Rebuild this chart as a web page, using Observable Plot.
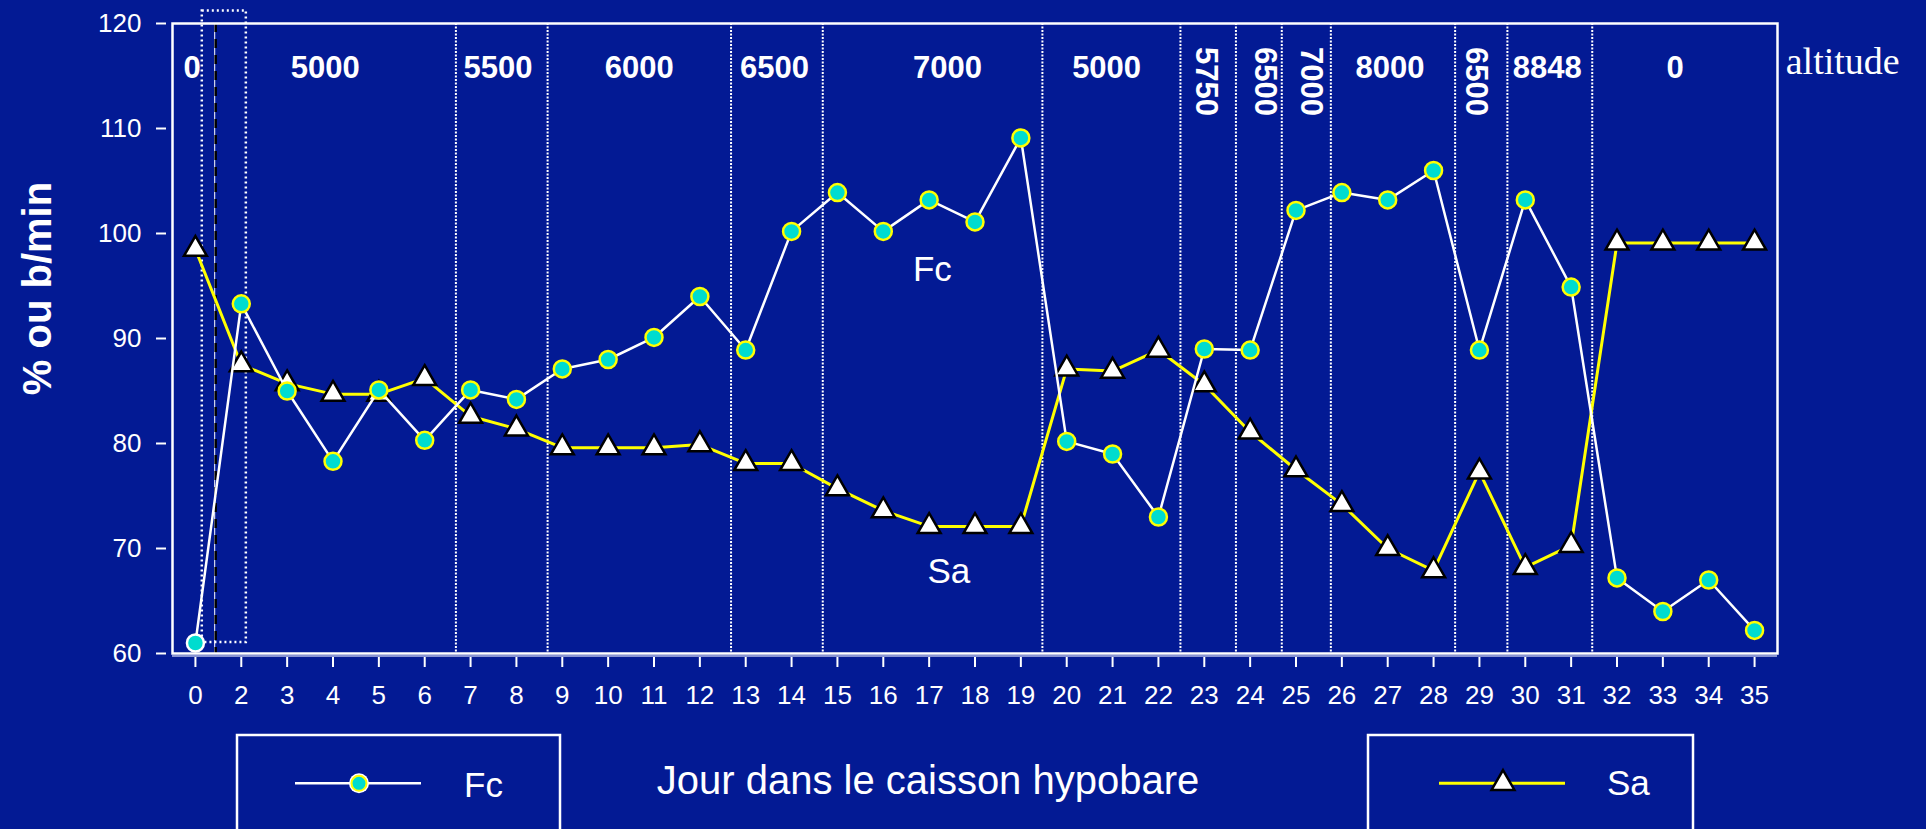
<!DOCTYPE html>
<html>
<head>
<meta charset="utf-8">
<script src="https://cdn.jsdelivr.net/npm/d3@7"></script>
<script src="https://cdn.jsdelivr.net/npm/@observablehq/plot@0.6"></script>
<style>
html, body { margin: 0; padding: 0; background: #031a94; overflow: hidden; }
#wrap { position: relative; width: 1926px; height: 829px; overflow: hidden; background: #031a94;
  font-family: "Liberation Sans", Arial, Helvetica, sans-serif; color: white; }
#chart svg { display: block; }
#below { position: absolute; left: 0; top: 720px; width: 1926px; height: 109px; }
</style>
</head>
<body>
<div id="wrap">
  <div id="chart"></div>
  <svg id="below" width="1926" height="109"></svg>
</div>
<script>
// ---- data ----
const days = [0,2,3,4,5,6,7,8,9,10,11,12,13,14,15,16,17,18,19,20,21,22,23,24,25,26,27,28,29,30,31,32,33,34,35];
const fcValues = [61.0,93.3,85.0,78.3,85.1,80.3,85.1,84.2,87.1,88.0,90.1,94.0,88.9,100.2,103.9,100.2,103.2,101.1,109.1,80.2,79.0,73.0,89.0,88.9,102.2,103.9,103.2,106.0,88.9,103.2,94.9,67.2,64.0,67.0,62.2];
const saValues = [98.5,87.5,85.7,84.7,84.7,86.2,82.6,81.4,79.6,79.6,79.6,79.9,78.1,78.1,75.7,73.6,72.1,72.1,72.1,87.1,86.9,88.9,85.6,81.1,77.5,74.2,70.0,67.9,77.3,68.2,70.3,99.1,99.1,99.1,99.1];
const yTicks = [60,70,80,90,100,110,120];
const altitudeLabels = ["0","5000","5500","6000","6500","7000","5000","5750","6500","7000","8000","6500","8848","0"];
const altitudeLabelPos = [-0.07,2.83,6.6,9.68,12.63,16.4,19.87,22.04,23.33,24.32,26.05,27.92,29.48,32.27];
const altitudeLabelVertical = [false,false,false,false,false,false,false,true,true,true,false,true,false,false];
const altitudeBoundaries = [5.68,7.68,11.68,13.68,18.47,21.48,22.69,23.69,24.76,27.47,28.61,30.46];
const startMarker = [0.42];
const startBoxX = [0.15, 1.11];
const startBoxY = [61.05, 121.2];
const seriesNames = ["Fc", "Sa"];
const seriesLabelX = [16.07, 16.43];
const seriesLabelY = [95.46, 66.73];
const altitudeTitle = "altitude";
const altitudeTitleX = 34.68;
const yTitle = "% ou b/min";
const xTitle = "Jour dans le caisson hypobare";

// ---- tables ----
const rows = days.map((day, i) => ({i, day, fc: fcValues[i], sa: saValues[i]}));
const alt = altitudeLabels.map((t, k) => ({t, x: altitudeLabelPos[k], vertical: altitudeLabelVertical[k]}));
const seriesLabels = seriesNames.map((t, k) => ({t, x: seriesLabelX[k], y: seriesLabelY[k]}));

const CYAN = "#00dccf", YELLOW = "#ffff00";
const SANS = "'Liberation Sans', Arial, Helvetica, sans-serif";

const chart = Plot.plot({
  width: 1926,
  height: 720,
  marginLeft: 172,
  marginRight: 149,
  marginTop: 23,
  marginBottom: 67,
  x: {type: "linear", domain: [-0.5, 34.5]},
  y: {domain: [60, 120]},
  style: {background: "transparent", color: "white", fontFamily: SANS, overflow: "visible"},
  marks: [
    Plot.ruleX(altitudeBoundaries, {stroke: "white", strokeWidth: 2, strokeDasharray: "2,1.5"}),
    Plot.rect([0], {x1: startBoxX[0], x2: startBoxX[1], y1: startBoxY[0], y2: startBoxY[1],
      fill: "none", stroke: "white", strokeWidth: 2.5, strokeDasharray: "2,3"}),
    Plot.ruleX(startMarker, {stroke: "white", strokeWidth: 1}),
    Plot.ruleX(startMarker, {stroke: "black", strokeWidth: 2.5, strokeDasharray: "9,7", dx: 1}),
    Plot.frame({stroke: "white", strokeWidth: 2.5}),
    Plot.ruleY([60], {stroke: "#b4bde8", strokeWidth: 1.5, dy: 2.5}),
    Plot.axisY(yTicks, {tickSize: 10, dx: -6, tickPadding: 15, fontSize: 26, strokeWidth: 2, label: null}),
    Plot.axisX(d3.range(days.length), {tickFormat: i => String(days[i]), tickSize: 10, dy: 4,
      tickPadding: 18, fontSize: 26, strokeWidth: 2, label: null}),
    Plot.line(rows, {x: "i", y: "sa", stroke: YELLOW, strokeWidth: 3}),
    Plot.dot(rows, {x: "i", y: "sa", symbol: "triangle", r: 8.5, fill: "white", stroke: "black", strokeWidth: 2.5}),
    Plot.line(rows, {x: "i", y: "fc", stroke: "white", strokeWidth: 2.5}),
    Plot.dot(rows, {x: "i", y: "fc", r: 8.5, fill: CYAN, stroke: YELLOW, strokeWidth: 2.5, filter: d => d.day !== 0}),
    Plot.dot(rows, {x: "i", y: "fc", r: 8.5, fill: CYAN, stroke: "white", strokeWidth: 2.5, filter: d => d.day === 0}),
    Plot.text(alt, {filter: d => !d.vertical, x: "x", text: "t", frameAnchor: "top", dy: 45,
      lineAnchor: "middle", fontSize: 31, fontWeight: "bold", fill: "white"}),
    Plot.text(alt, {filter: d => d.vertical, x: "x", text: "t", frameAnchor: "top", dy: 58, rotate: 90,
      lineAnchor: "middle", textAnchor: "middle", fontSize: 31, fontWeight: "bold", fill: "white"}),
    Plot.text([altitudeTitle], {x: altitudeTitleX, frameAnchor: "top", dy: 50, lineAnchor: "bottom",
      textAnchor: "start", fontSize: 38, fontFamily: "'Liberation Serif', 'Times New Roman', serif", fill: "white"}),
    Plot.text([yTitle], {frameAnchor: "left", dx: -122, dy: -50, rotate: -90, lineAnchor: "bottom",
      textAnchor: "middle", fontSize: 40, fontWeight: "bold", fill: "white"}),
    Plot.text(seriesLabels, {x: "x", y: "y", text: "t", lineAnchor: "bottom", fontSize: 35, fill: "white"})
  ]
});
document.getElementById("chart").append(chart);

// ---- legend and x title below the chart ----
const below = d3.select("#below");
below.style("font-family", SANS);
// left legend box (Fc)
below.append("rect").attr("x", 237).attr("y", 15).attr("width", 323).attr("height", 140)
  .attr("fill", "none").attr("stroke", "white").attr("stroke-width", 2.5);
below.append("line").attr("x1", 295).attr("x2", 421).attr("y1", 63.3).attr("y2", 63.3)
  .attr("stroke", "white").attr("stroke-width", 2.5);
below.append("circle").attr("cx", 359).attr("cy", 63.3).attr("r", 10).attr("fill", "white");
below.append("circle").attr("cx", 359).attr("cy", 63.3).attr("r", 7.5).attr("fill", CYAN)
  .attr("stroke", YELLOW).attr("stroke-width", 2);
below.append("text").attr("x", 464).attr("y", 77).attr("fill", "white").attr("font-size", 35).text(seriesNames[0]);
// x title
below.append("text").attr("x", 928).attr("y", 74).attr("fill", "white").attr("font-size", 40)
  .attr("text-anchor", "middle").text(xTitle);
// right legend box (Sa)
below.append("rect").attr("x", 1368).attr("y", 15).attr("width", 325).attr("height", 140)
  .attr("fill", "none").attr("stroke", "white").attr("stroke-width", 2.5);
below.append("line").attr("x1", 1439).attr("x2", 1565).attr("y1", 63.3).attr("y2", 63.3)
  .attr("stroke", YELLOW).attr("stroke-width", 3);
below.append("path").attr("transform", "translate(1503,63.3)")
  .attr("d", d3.symbol(d3.symbolTriangle, Math.PI * 72)())
  .attr("fill", "white").attr("stroke", "black").attr("stroke-width", 2.5);
below.append("text").attr("x", 1607).attr("y", 75).attr("fill", "white").attr("font-size", 35).text(seriesNames[1]);
</script>
</body>
</html>
